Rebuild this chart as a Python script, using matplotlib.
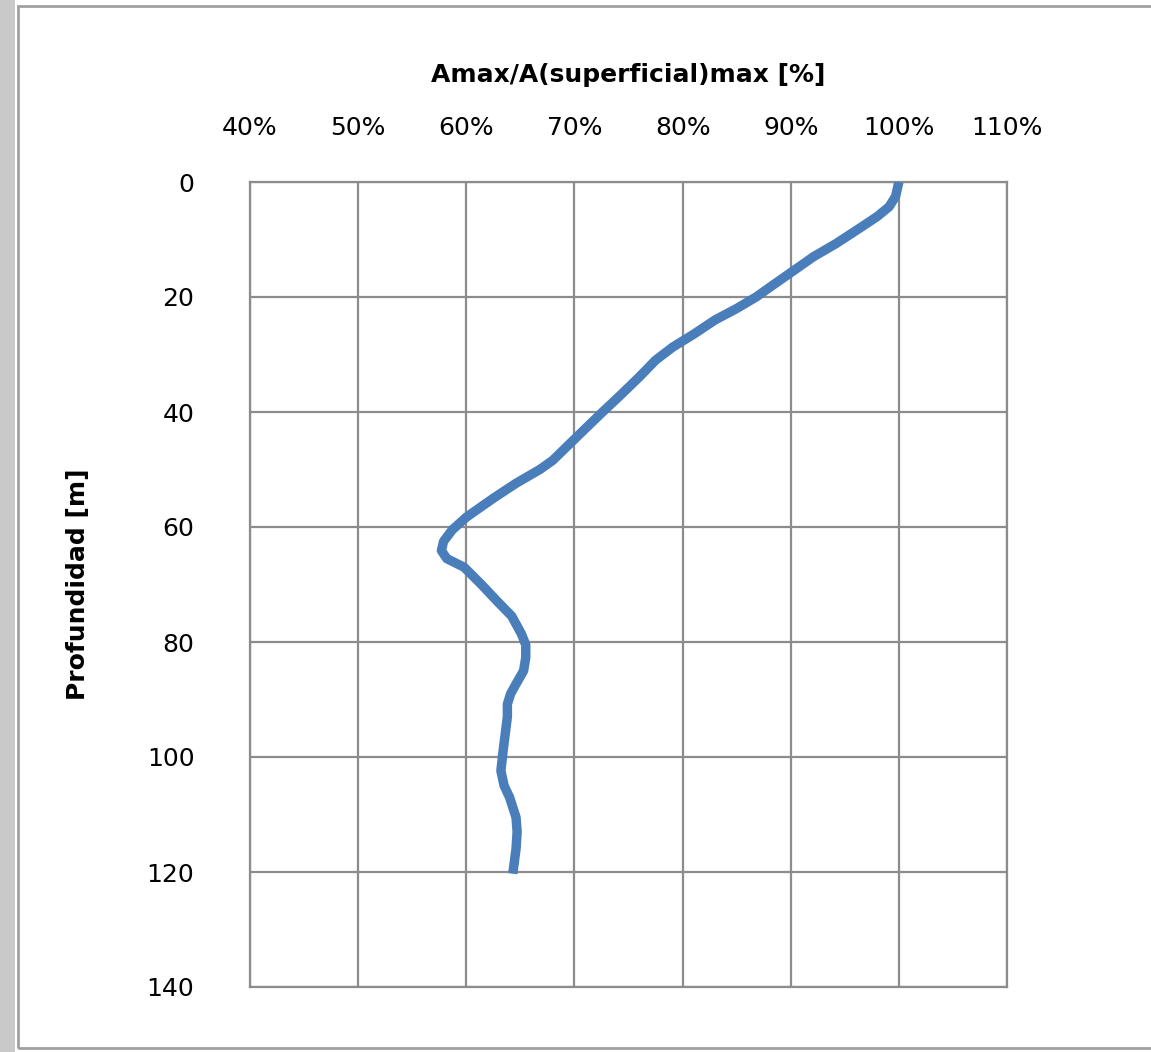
import numpy as np
import matplotlib.pyplot as plt
from matplotlib.patches import Rectangle
from matplotlib.ticker import FuncFormatter

# depth [m] vs Amax/A(superficial)max [%]
depth = [0, 2.5, 4.3, 6, 8, 10.7, 13, 15.9, 18, 20, 22, 24, 26.5, 28.7, 31,
         33.9, 37, 40, 44, 48.4, 50, 52.4, 55, 58.3, 60.5, 62.5, 64.1, 65.5,
         67, 70, 72.8, 75.5, 78.6, 80.5, 82.7, 85, 87.3, 89, 90.8, 93, 96, 99,
         102.4, 105, 107, 110.5, 113, 116, 120.3]
ratio = [100, 99.7, 99.1, 98.0, 96.4, 94.2, 92.1, 89.9, 88.3, 86.8, 85.0, 83.0,
         81.0, 79.1, 77.5, 76.0, 74.3, 72.6, 70.4, 68.0, 66.8, 64.6, 62.5, 60.0,
         58.7, 57.9, 57.7, 58.2, 59.8, 61.4, 62.8, 64.2, 65.1, 65.5, 65.5, 65.3,
         64.6, 64.1, 63.8, 63.8, 63.6, 63.4, 63.2, 63.5, 64.0, 64.6, 64.7, 64.6,
         64.3]
x_ticks = [40, 50, 60, 70, 80, 90, 100, 110]
y_ticks = [0, 20, 40, 60, 80, 100, 120, 140]

W, H = 1151, 1052
fig = plt.figure(figsize=(W / 100, H / 100), dpi=100)
plt.rcParams['font.family'] = ['DejaVu Sans']

# gray strip on the left + chart border
fig.patches.append(Rectangle((0, 0), 15 / W, 1, transform=fig.transFigure,
                             facecolor='#c9c9c9', edgecolor='none', zorder=0))
fig.patches.append(Rectangle((18 / W, 4 / H), 1.2, (1046 - 4) / H,
                             transform=fig.transFigure, facecolor='none',
                             edgecolor='#a0a0a0', lw=2, zorder=1))

ax = fig.add_axes([250 / W, 1 - 987 / H, (1007 - 250) / W, (987 - 182) / H])
ax.plot(ratio, depth, color='#4a7ebb', lw=6.8, solid_joinstyle='round',
        solid_capstyle='butt', zorder=3)

ax.set_xlim(40, 110)
ax.set_ylim(140, 0)
ax.set_xticks(x_ticks)
ax.set_yticks(y_ticks)
ax.xaxis.set_major_formatter(FuncFormatter(lambda v, p: f"{v:.0f}%"))
ax.xaxis.tick_top()
ax.xaxis.set_label_position('top')
ax.tick_params(axis='x', length=0, pad=30, labelsize=18)
ax.tick_params(axis='y', length=0, pad=40, labelsize=18)
ax.grid(True, color='#8c8c8c', lw=1.6)
for s in ax.spines.values():
    s.set_color('#8c8c8c')
    s.set_linewidth(1.6)

ax.set_xlabel('Amax/A(superficial)max [%]', fontsize=18, fontweight='bold')
ax.xaxis.set_label_coords(0.5, 1 + (182 - 82) / 805)
ax.set_ylabel('Profundidad [m]', fontsize=18, fontweight='bold')
ax.yaxis.set_label_coords((90 - 250) / 757, 0.5)

fig.savefig('out.png', dpi=100)
